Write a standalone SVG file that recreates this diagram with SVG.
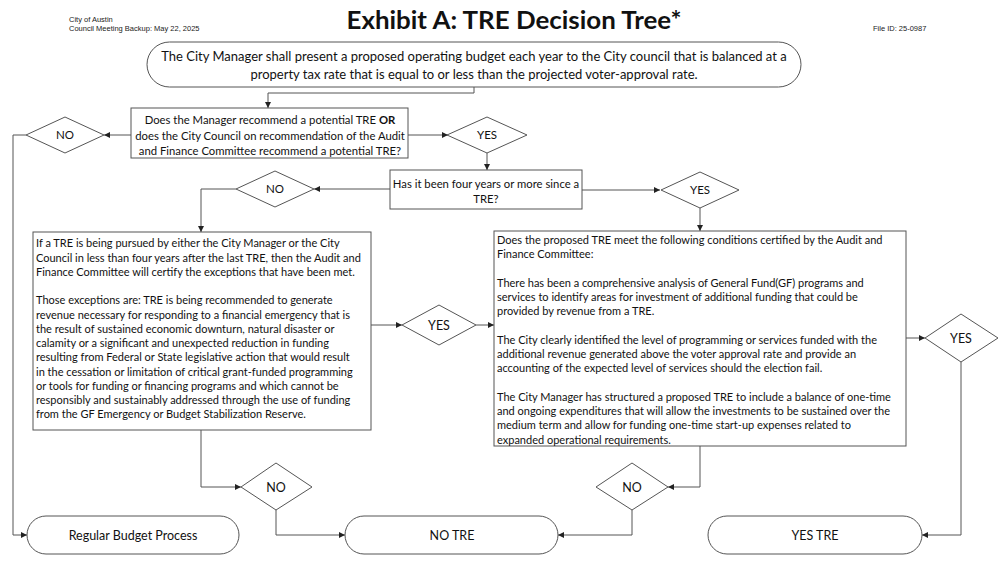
<svg xmlns="http://www.w3.org/2000/svg" width="1000" height="565" viewBox="0 0 1000 565">
<style>
.bg{fill:#fff}
.shape{fill:#fff;stroke:#555;stroke-width:1}
.conn{fill:none;stroke:#555;stroke-width:1}
.t{font-family:Lato,"Liberation Sans",sans-serif;fill:#111}
.hdr{font-family:"Liberation Sans",Arial,sans-serif;font-size:7.5px;fill:#222}
.title{font-family:Lato,"Liberation Sans",sans-serif;font-size:24px;font-weight:bold;fill:#111}
.c{text-anchor:middle}
.body{font-size:11px}
.q{font-size:11.3px}
.top{font-size:13px}
.lbl{font-size:11.5px}
.end{font-size:12.5px}
</style>
<defs>
<marker id="arr" viewBox="0 0 10 10" refX="10" refY="5" markerWidth="6" markerHeight="6" markerUnits="userSpaceOnUse" orient="auto">
<path d="M0,0 L10,5 L0,10 z" fill="#222"/>
</marker>
</defs>
<rect class="bg" x="0" y="0" width="1000" height="565"/>

<g id="header">
<text class="hdr" x="69" y="22">City of Austin</text>
<text class="hdr" x="69" y="31">Council Meeting Backup: May 22, 2025</text>
<text class="hdr" x="873" y="31">File ID: 25-0987</text>
<text class="title c" x="514" y="29" textLength="335" lengthAdjust="spacingAndGlyphs">Exhibit A: TRE Decision Tree*</text>
</g>

<g id="connectors">
<polyline class="conn" points="474,87 474,93 268,93 268,108" marker-end="url(#arr)"/>
<line class="conn" x1="131" y1="135" x2="104" y2="135" marker-end="url(#arr)"/>
<polyline class="conn" points="26,135 13,135 13,535 27,535" marker-end="url(#arr)"/>
<line class="conn" x1="408" y1="135" x2="448" y2="135" marker-end="url(#arr)"/>
<line class="conn" x1="487" y1="153" x2="487" y2="170" marker-end="url(#arr)"/>
<line class="conn" x1="390" y1="189" x2="314" y2="189" marker-end="url(#arr)"/>
<polyline class="conn" points="236,189 201,189 201,232" marker-end="url(#arr)"/>
<line class="conn" x1="582" y1="190" x2="660" y2="190" marker-end="url(#arr)"/>
<line class="conn" x1="700" y1="208" x2="700" y2="231" marker-end="url(#arr)"/>
<line class="conn" x1="371" y1="325" x2="402" y2="325" marker-end="url(#arr)"/>
<line class="conn" x1="476" y1="325" x2="494" y2="325" marker-end="url(#arr)"/>
<line class="conn" x1="906" y1="338" x2="925" y2="338" marker-end="url(#arr)"/>
<polyline class="conn" points="961,362 961,535 922,535" marker-end="url(#arr)"/>
<polyline class="conn" points="201,430 201,487 241,487" marker-end="url(#arr)"/>
<polyline class="conn" points="276,510 276,535 345,535" marker-end="url(#arr)"/>
<polyline class="conn" points="700,446 700,487 668,487" marker-end="url(#arr)"/>
<polyline class="conn" points="632,510 632,535 558,535" marker-end="url(#arr)"/>
</g>

<g id="start">
<rect class="shape" x="147" y="42" width="654" height="45" rx="22.5"/>
<text class="t top c" x="474" y="61">The City Manager shall present a proposed operating budget each year to the City council that is balanced at a</text>
<text class="t top c" x="474" y="79">property tax rate that is equal to or less than the projected voter-approval rate.</text>
</g>

<g id="q1">
<rect class="shape" x="131" y="108" width="277" height="50"/>
<text class="t q c" x="270" y="124">Does the Manager recommend a potential TRE <tspan font-weight="bold">OR</tspan></text>
<text class="t q c" x="270" y="140">does the City Council on recommendation of the Audit</text>
<text class="t q c" x="270" y="155">and Finance Committee recommend a potential TRE?</text>
</g>

<g id="no1">
<polygon class="shape" points="65,117 104,135 65,153 26,135"/>
<text class="t lbl c" x="65" y="139">NO</text>
</g>

<g id="yes1">
<polygon class="shape" points="487,117 527,135 487,153 447,135"/>
<text class="t lbl c" x="487" y="139">YES</text>
</g>

<g id="q2">
<rect class="shape" x="390" y="170" width="192" height="39"/>
<text class="t q c" x="486" y="188">Has it been four years or more since a</text>
<text class="t q c" x="486" y="203">TRE?</text>
</g>

<g id="no2">
<polygon class="shape" points="275,171 314,189 275,207 236,189"/>
<text class="t lbl c" x="275" y="193">NO</text>
</g>

<g id="yes2">
<polygon class="shape" points="700,172 739,190 700,208 661,190"/>
<text class="t lbl c" x="700" y="194">YES</text>
</g>

<g id="exceptions">
<rect class="shape" x="33" y="232" width="338" height="198"/>
<text class="t body" x="36" y="247">If a TRE is being pursued by either the City Manager or the City</text>
<text class="t body" x="36" y="262">Council in less than four years after the last TRE, then the Audit and</text>
<text class="t body" x="36" y="276">Finance Committee will certify the exceptions that have been met.</text>
<text class="t body" x="36" y="304">Those exceptions are: TRE is being recommended to generate</text>
<text class="t body" x="36" y="319">revenue necessary for responding to a financial emergency that is</text>
<text class="t body" x="36" y="333">the result of sustained economic downturn, natural disaster or</text>
<text class="t body" x="36" y="347">calamity or a significant and unexpected reduction in funding</text>
<text class="t body" x="36" y="361">resulting from Federal or State legislative action that would result</text>
<text class="t body" x="36" y="376">in the cessation or limitation of critical grant-funded programming</text>
<text class="t body" x="36" y="390">or tools for funding or financing programs and which cannot be</text>
<text class="t body" x="36" y="404">responsibly and sustainably addressed through the use of funding</text>
<text class="t body" x="36" y="418">from the GF Emergency or Budget Stabilization Reserve.</text>
</g>

<g id="yes3">
<polygon class="shape" points="439,305 476,325 439,345 402,325"/>
<text class="t end c" x="439" y="330">YES</text>
</g>

<g id="conditions">
<rect class="shape" x="494" y="231" width="412" height="215"/>
<text class="t body" x="497" y="244">Does the proposed TRE meet the following conditions certified by the Audit and</text>
<text class="t body" x="497" y="258">Finance Committee:</text>
<text class="t body" x="497" y="287">There has been a comprehensive analysis of General Fund(GF) programs and</text>
<text class="t body" x="497" y="301">services to identify areas for investment of additional funding that could be</text>
<text class="t body" x="497" y="315">provided by revenue from a TRE.</text>
<text class="t body" x="497" y="344">The City clearly identified the level of programming or services funded with the</text>
<text class="t body" x="497" y="358">additional revenue generated above the voter approval rate and provide an</text>
<text class="t body" x="497" y="372">accounting of the expected level of services should the election fail.</text>
<text class="t body" x="497" y="401">The City Manager has structured a proposed TRE to include a balance of one-time</text>
<text class="t body" x="497" y="415">and ongoing expenditures that will allow the investments to be sustained over the</text>
<text class="t body" x="497" y="429">medium term and allow for funding one-time start-up expenses related to</text>
<text class="t body" x="497" y="444">expanded operational requirements.</text>
</g>

<g id="yes4">
<polygon class="shape" points="961,314 998,338 961,362 925,338"/>
<text class="t end c" x="961" y="343">YES</text>
</g>

<g id="no3">
<polygon class="shape" points="276,463 312,487 276,510 241,487"/>
<text class="t end c" x="276" y="492">NO</text>
</g>

<g id="no4">
<polygon class="shape" points="632,463 668,487 632,510 596,487"/>
<text class="t end c" x="632" y="492">NO</text>
</g>

<g id="regular">
<rect class="shape" x="27" y="516" width="212" height="38" rx="19"/>
<text class="t end c" x="133" y="540">Regular Budget Process</text>
</g>

<g id="notre">
<rect class="shape" x="345" y="516" width="213" height="38" rx="19"/>
<text class="t end c" x="452" y="540">NO TRE</text>
</g>

<g id="yestre">
<rect class="shape" x="708" y="516" width="214" height="38" rx="19"/>
<text class="t end c" x="815" y="540">YES TRE</text>
</g>
</svg>
